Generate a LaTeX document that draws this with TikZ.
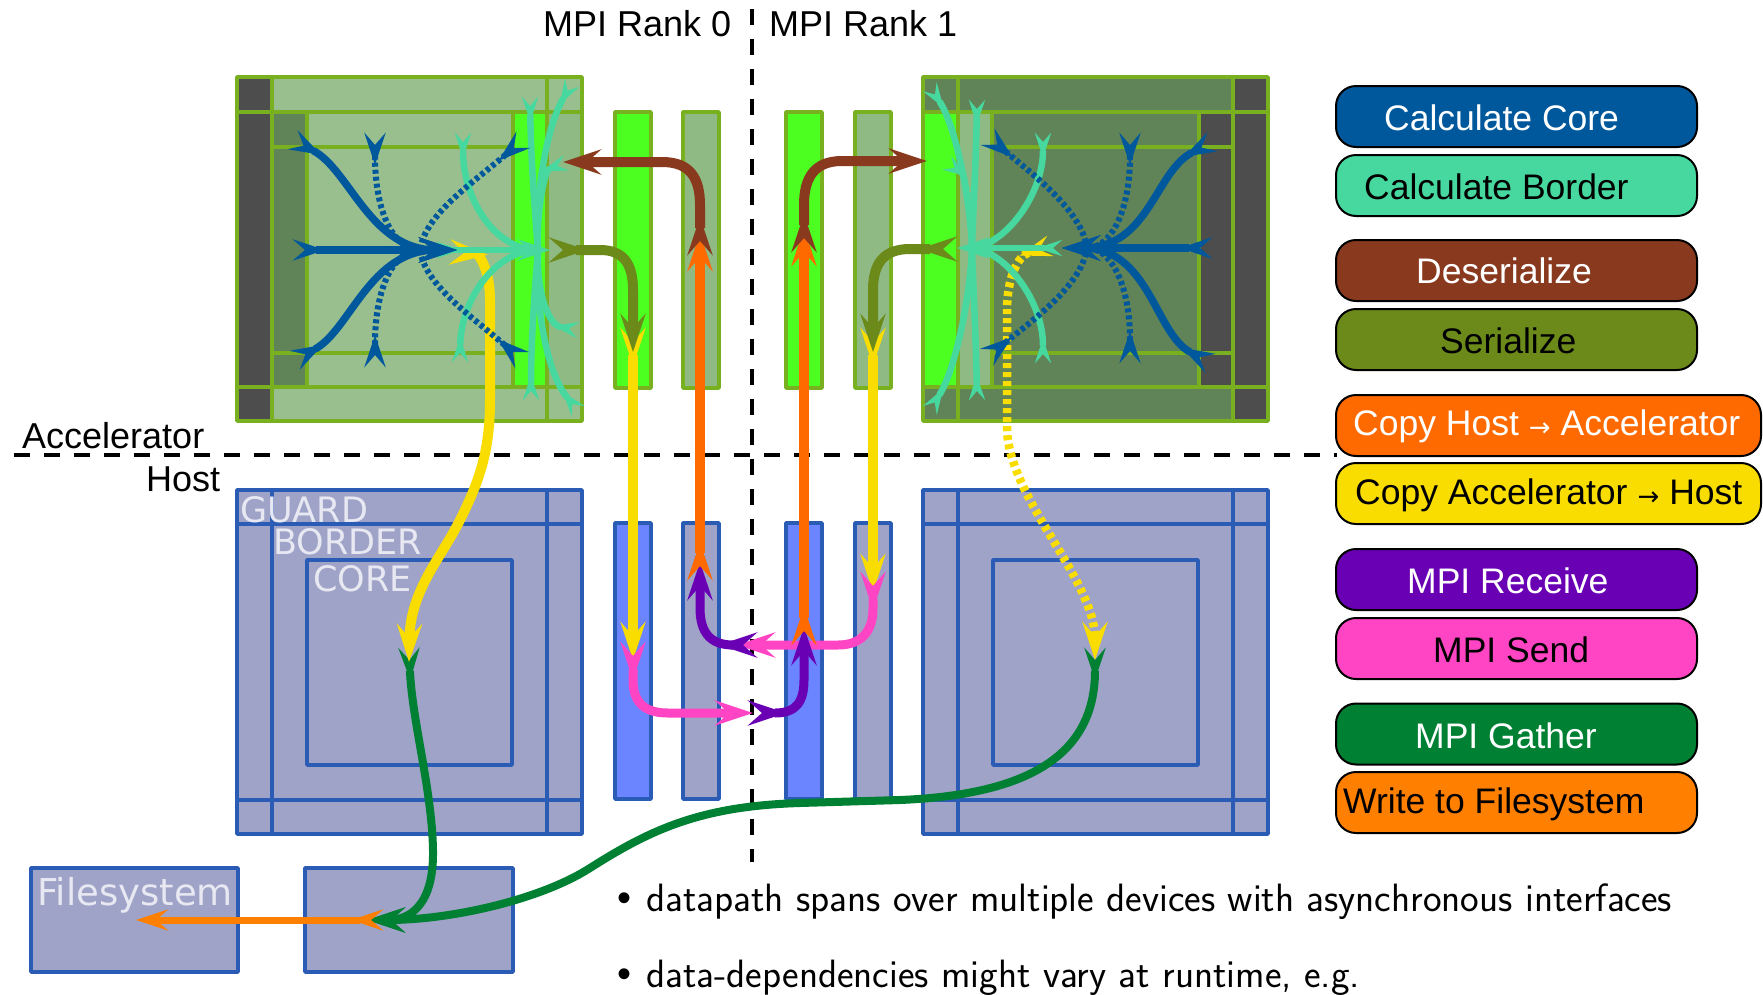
\documentclass[tikz,border=0pt]{standalone}
\usepackage{fontspec}
\setmainfont{Liberation Sans}
\newfontfamily\dejavu{DejaVu Sans}
\usetikzlibrary{arrows.meta}

% fills and strokes
\definecolor{accL}{HTML}{99BF8F}
\definecolor{accLL}{HTML}{8FBA84}
\definecolor{accD}{HTML}{608457}
\definecolor{accB}{HTML}{4CFF20}
\definecolor{accG}{HTML}{4D4D4D}
\definecolor{accLine}{HTML}{78B020}
\definecolor{hostF}{HTML}{9FA3C8}
\definecolor{hostB}{HTML}{6B84FF}
\definecolor{hostLine}{HTML}{2B5CB5}
\definecolor{txtLight}{HTML}{E8E8F2}
% operation colours
\definecolor{cCore}{HTML}{00589C}
\definecolor{cBorder}{HTML}{46D89F}
\definecolor{cDeser}{HTML}{893A1E}
\definecolor{cSer}{HTML}{6B8A1A}
\definecolor{cHtoA}{HTML}{FF6A00}
\definecolor{cAtoH}{HTML}{F9DC00}
\definecolor{cRecv}{HTML}{6A00B4}
\definecolor{cSend}{HTML}{FF44C4}
\definecolor{cGath}{HTML}{008033}
\definecolor{cWrite}{HTML}{FF8000}

\tikzset{
  fkB/.tip={Stealth[reversed,length=38pt,width=25pt,inset=14pt]},
  hdB/.tip={Stealth[length=38pt,width=25pt,inset=14pt]},
  fkM/.tip={Stealth[reversed,length=32pt,width=21pt,inset=12pt]},
  hdM/.tip={Stealth[length=32pt,width=21pt,inset=12pt]},
  fkS/.tip={Stealth[reversed,length=25pt,width=16pt,inset=9pt]},
  hdS/.tip={Stealth[length=25pt,width=16pt,inset=9pt]},
  accln/.style={draw=accLine,line width=3.5pt},
  hostln/.style={draw=hostLine,line width=3.5pt},
  accstrip/.style={draw=accLine,line width=3.5pt,minimum width=36pt,minimum height=276pt,inner sep=0pt},
  hoststrip/.style={draw=hostLine,line width=3.5pt,minimum width=36pt,minimum height=276pt,inner sep=0pt},
  hostnode/.style={draw=hostLine,fill=hostF,line width=3.5pt,inner sep=0pt},
  sepline/.style={draw=black,line width=4pt,dash pattern=on 16pt off 14pt},
  coreS/.style={draw=cCore,line width=7.5pt,fkM-hdB},
  coreD/.style={draw=cCore,line width=6pt,dash pattern=on 4pt off 3pt,fkM-},
  bordS/.style={draw=cBorder,line width=6.5pt,fkS-},
  bordD/.style={draw=cBorder,line width=6.5pt,dash pattern=on 4pt off 3pt,fkS-},
  bordH/.style={draw=cBorder,line width=6.5pt,fkS-hdM},
  serl/.style={draw=cSer,line width=10pt,fkB-hdB},
  deser/.style={draw=cDeser,line width=10pt,fkB-hdB},
  htoa/.style={draw=cHtoA,line width=9.5pt,fkB-hdB},
  atoh/.style={draw=cAtoH,line width=10pt,fkB-hdB},
  atohD/.style={draw=cAtoH,line width=8.5pt,dash pattern=on 5pt off 4pt,fkM-hdB},
  recv/.style={draw=cRecv,line width=9pt,fkB-hdB},
  send/.style={draw=cSend,line width=9pt,fkB-hdB},
  gath/.style={draw=cGath,line width=8pt,fkM-hdB},
  wrt/.style={draw=cWrite,line width=7pt,fkM-hdM},
  lbl/.style={font=\fontsize{36}{40}\selectfont,anchor=base west,inner sep=0pt},
  regl/.style={font=\dejavu\fontsize{35}{40}\selectfont,text=txtLight,anchor=base west,inner sep=0pt},
  legbox/.style={draw=black,line width=2pt,rounded corners=20pt,minimum height=61pt,inner sep=0pt},
  legtxt/.style={font=\fontsize{35.5}{40}\selectfont,anchor=base west,inner sep=0pt},
  note/.style={anchor=base west,inner sep=0pt,font=\sffamily\fontsize{39.5}{46}\selectfont},
}
\newcommand\smallarrow{\hspace{10pt}{\dejavu\fontsize{26}{26}\selectfont\raisebox{-1pt}{→}}\hspace{10pt}}

\begin{document}
\begin{tikzpicture}[x=1pt,y=-1pt,line join=round]
\useasboundingbox (0,0) rectangle (1763,994);

% ---------- accelerator, rank 0 ----------
\fill[accL] (237,77) rectangle (582,421);
\fill[accG] (237,77) rectangle (272,421);
\fill[accD] (272,112) rectangle (307,387);
\fill[accB] (513,112) rectangle (547,387);
\fill[accLL] (547,112) rectangle (582,387);
\draw[accln] (237,77) rectangle (582,421);
\draw[accln] (237,112) -- (582,112) (237,387) -- (582,387)
             (272,77) -- (272,421) (547,77) -- (547,421);
\draw[accln] (307,112) -- (307,387) (513,112) -- (513,387)
             (272,147) -- (513,147) (272,353) -- (513,353);

% ---------- accelerator, rank 1 ----------
\fill[accD] (923,77) rectangle (1268,421);
\fill[accB] (923,112) rectangle (958,387);
\fill[accLL] (958,112) rectangle (992,387);
\fill[accG] (1199,112) rectangle (1233,387);
\fill[accG] (1233,77) rectangle (1268,421);
\draw[accln] (923,77) rectangle (1268,421);
\draw[accln] (923,112) -- (1268,112) (923,387) -- (1268,387)
             (958,77) -- (958,421) (1233,77) -- (1233,421);
\draw[accln] (992,112) -- (992,387) (1199,112) -- (1199,387)
             (992,147) -- (1233,147) (992,353) -- (1233,353);

% ---------- host grids ----------
\foreach \dx in {0pt,686pt}{
\begin{scope}[xshift=\dx]
  \fill[hostF] (237,490) rectangle (582,834);
  \draw[hostln] (237,490) rectangle (582,834);
  \draw[hostln] (272,490) -- (272,834) (547,490) -- (547,834)
                (237,524) -- (582,524) (237,800) -- (582,800);
  \draw[hostln] (307,560) rectangle (512,765);
\end{scope}}
\node[regl] (lguard) at (240,522) {GUARD};
\node[regl] (lborder) at (273,554) {BORDER};
\node[regl] (lcore) at (313,591) {CORE};

% ---------- exchange buffers ----------
\node[accstrip,fill=accB]  (sa1) at (633,250) {};
\node[accstrip,fill=accLL] (sa2) at (701,250) {};
\node[accstrip,fill=accB]  (sa3) at (804,250) {};
\node[accstrip,fill=accLL] (sa4) at (873,250) {};
\node[hoststrip,fill=hostB] (sh1) at (633,661) {};
\node[hoststrip,fill=hostF] (sh2) at (701,661) {};
\node[hoststrip,fill=hostB] (sh3) at (804,661) {};
\node[hoststrip,fill=hostF] (sh4) at (873,661) {};

% ---------- output buffers ----------
\node[hostnode,minimum width=207pt,minimum height=104pt] (fs) at (134.5,920) {};
\node[hostnode,minimum width=208pt,minimum height=104pt] (gbuf) at (409,920) {};
\node[regl,font=\dejavu\fontsize{37}{40}\selectfont] (lfs) at (37,905) {Filesystem};

% ---------- separators and labels ----------
\draw[sepline] (752,9) -- (752,862);
\draw[sepline] (14,455) -- (1337,455);
\node[lbl] (rank0) at (543,36) {MPI Rank 0};
\node[lbl] (rank1) at (769,36) {MPI Rank 1};
\node[lbl] (lacc) at (22,448) {Accelerator};
\node[lbl] (lhost) at (146,491) {Host};

% ---------- end points ----------
\coordinate (c0) at (457,250);  \coordinate (c0d) at (420,250);
\coordinate (j0) at (538,250);  \coordinate (j0h) at (550,250);
\coordinate (c1) at (1062,248); \coordinate (c1d) at (1087,248);
\coordinate (j1) at (972,248);  \coordinate (j1h) at (957,248);
\coordinate (gend) at (367,920);
\coordinate (w0a) at (383,920); \coordinate (w0b) at (136,920);

% ---------- gather and write ----------
\draw[gath] (1095,648) .. controls (1095,760) and (1020,795) .. (900,800)
  -- (800,803) .. controls (700,806) and (650,830) .. (590,868)
  .. controls (540,900) and (450,920) .. (gend);
\draw[gath] (409,648) .. controls (412,720) and (432,790) .. (433,850)
  .. controls (434,905) and (410,920) .. (gend);
\draw[wrt] (w0a) -- (w0b);

% ---------- rank 0: compute ----------
\draw[atoh] (450,252) .. controls (478,254) and (490,268) .. (490,300) -- (490,400)
  .. controls (490,450) and (480,480) .. (460,520)
  .. controls (440,560) and (410,590) .. (409,662);
\draw[bordS] (463,133) .. controls (463,200) and (495,250) .. (j0);
\draw[bordS] (460,362) .. controls (461,300) and (495,250) .. (j0);
\draw[bordS] (530,97)  .. controls (531,160) and (535,215) .. (j0);
\draw[bordS] (572,83)  .. controls (545,130) and (535,200) .. (j0);
\draw[bordS] (566,163) .. controls (545,170) and (536,210) .. (j0);
\draw[bordS] (531,400) .. controls (531,340) and (535,285) .. (j0);
\draw[bordS] (578,411) .. controls (545,370) and (535,300) .. (j0);
\draw[bordS] (578,330) .. controls (548,325) and (536,290) .. (j0);
\draw[bordH] (437,250) -- (j0h);
\draw[coreD] (375,133) .. controls (375,215) and (395,250) .. (c0d);
\draw[coreD] (375,367) .. controls (375,285) and (395,250) .. (c0d);
\draw[coreD] (523,140) .. controls (470,185) and (425,215) .. (c0d);
\draw[coreD] (522,360) .. controls (470,315) and (425,285) .. (c0d);
\draw[coreS] (293,140) .. controls (350,170) and (370,250) .. (c0);
\draw[coreS] (293,250) -- (c0);
\draw[coreS] (295,360) .. controls (350,330) and (370,250) .. (c0);

% ---------- rank 1: compute ----------
\draw[atohD] (1050,246) .. controls (1018,256) and (1007,278) .. (1007,310) -- (1007,430)
  .. controls (1010,500) and (1095,580) .. (1095,660);
\draw[bordS] (1043,133) .. controls (1043,195) and (1005,245) .. (j1);
\draw[bordS] (1043,363) .. controls (1043,300) and (1005,251) .. (j1);
\draw[bordS] (977,100)  .. controls (976,160) and (973,215) .. (j1);
\draw[bordS] (930,87)   .. controls (955,125) and (970,195) .. (j1);
\draw[bordD] (947,163)  .. controls (965,175) and (972,215) .. (j1);
\draw[bordS] (977,400)  .. controls (976,340) and (973,280) .. (j1);
\draw[bordS] (930,410)  .. controls (955,370) and (970,300) .. (j1);
\draw[bordH] (1062,248) -- (j1h);
\draw[coreD] (1130,133) .. controls (1130,213) and (1110,248) .. (c1d);
\draw[coreD] (1130,363) .. controls (1130,283) and (1110,248) .. (c1d);
\draw[coreD] (988,137)  .. controls (1040,180) and (1082,213) .. (c1d);
\draw[coreD] (987,357)  .. controls (1040,315) and (1082,283) .. (c1d);
\draw[coreS] (1212,142) .. controls (1155,172) and (1149,248) .. (c1);
\draw[coreS] (1212,248) -- (c1);
\draw[coreS] (1210,363) .. controls (1155,333) and (1149,248) .. (c1);

% ---------- halo exchange ----------
\draw[atoh] (633,328) -- (633,660);
\draw[atoh] (873,328) -- (873,592);
\draw[serl] (549,250) -- (600,250) .. controls (622,250) and (633,262) .. (633,290) -- (633,352);
\draw[serl] (957,249) -- (910,249) .. controls (885,249) and (873,262) .. (873,290) -- (873,352);
\draw[send] (633,642) -- (633,680) .. controls (633,703) and (645,713) .. (668,713) -- (753,713);
\draw[send] (873,572) -- (873,608) .. controls (873,632) and (861,645) .. (838,645) -- (737,645);
\draw[recv] (748,713) -- (775,713) .. controls (796,713) and (804,702) .. (804,680) -- (804,627);
\draw[recv] (757,645) -- (733,645) .. controls (710,645) and (700,632) .. (700,608) -- (700,562);
\draw[htoa] (700,580) -- (700,233);
\draw[htoa] (804,645) -- (804,228);
\draw[deser] (700,255) -- (700,205) .. controls (700,178) and (690,162) .. (662,162) -- (563,162);
\draw[deser] (804,252) -- (804,205) .. controls (804,178) and (814,161) .. (842,161) -- (927,161);

% ---------- legend ----------
\node[legbox,fill=cCore,minimum width=361pt]   (k1) at (1516.5,116.5) {};
\node[legbox,fill=cBorder,minimum width=361pt] (k2) at (1516.5,185.5) {};
\node[legbox,fill=cDeser,minimum width=361pt]  (k3) at (1516.5,270.5) {};
\node[legbox,fill=cSer,minimum width=361pt]    (k4) at (1516.5,339.5) {};
\node[legbox,fill=cHtoA,minimum width=425pt]   (k5) at (1548.5,425.5) {};
\node[legbox,fill=cAtoH,minimum width=425pt]   (k6) at (1548.5,493.5) {};
\node[legbox,fill=cRecv,minimum width=361pt]   (k7) at (1516.5,579.5) {};
\node[legbox,fill=cSend,minimum width=361pt]   (k8) at (1516.5,648.5) {};
\node[legbox,fill=cGath,minimum width=361pt]   (k9) at (1516.5,734) {};
\node[legbox,fill=cWrite,minimum width=361pt]  (k10) at (1516.5,802.5) {};
\node[legtxt,text=white] at (1384,130) {Calculate Core};
\node[legtxt] at (1364,199) {Calculate Border};
\node[legtxt,text=white] at (1416,283) {Deserialize};
\node[legtxt] at (1440,353) {Serialize};
\node[legtxt,text=white] at (1353,435) {Copy Host\smallarrow Accelerator};
\node[legtxt] at (1355,504) {Copy Accelerator\smallarrow Host};
\node[legtxt,text=white] at (1407,593) {MPI Receive};
\node[legtxt] at (1433,662) {MPI Send};
\node[legtxt,text=white] at (1415,748) {MPI Gather};
\node[legtxt] at (1343,813) {Write to Filesystem};

% ---------- notes ----------
\node[note,font=\rmfamily\fontsize{40}{46}\selectfont] (d1) at (617,911) {\textbullet};
\node[note] (n1) at (646,911) {datapath spans over multiple devices with asynchronous interfaces};
\node[note,font=\rmfamily\fontsize{40}{46}\selectfont] (d2) at (617,987) {\textbullet};
\node[note] (n2) at (646,987) {data-dependencies might vary at runtime, e.g.};
\end{tikzpicture}
\end{document}
